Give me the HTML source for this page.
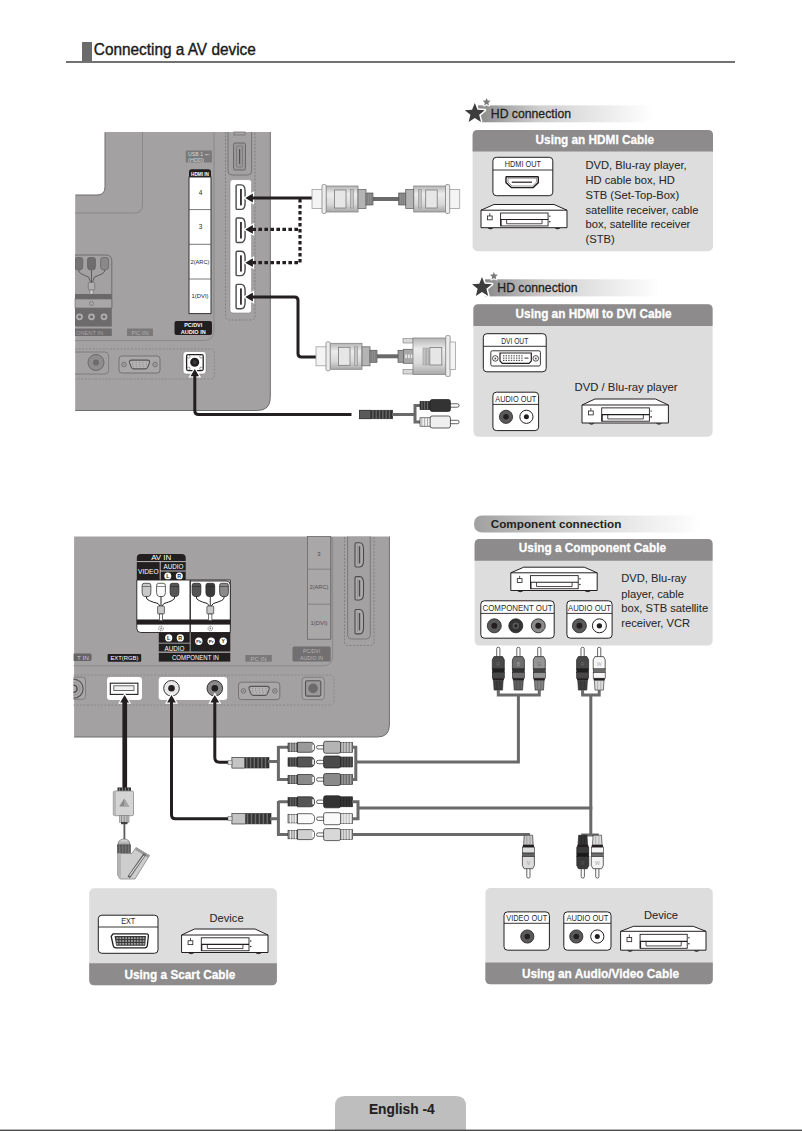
<!DOCTYPE html><html><head><meta charset="utf-8"><style>html,body{margin:0;padding:0;background:#fff;width:802px;height:1131px;overflow:hidden}svg{display:block}text{font-family:"Liberation Sans",sans-serif}</style></head><body>
<svg width="802" height="1131" viewBox="0 0 802 1131">
<defs>
<linearGradient id="hdgrad" x1="0" x2="1" y1="0" y2="0"><stop offset="0" stop-color="#8a8a8a"/><stop offset="0.35" stop-color="#cfcfcf"/><stop offset="1" stop-color="#ffffff"/></linearGradient>
<linearGradient id="cgrad" x1="0" x2="1" y1="0" y2="0"><stop offset="0" stop-color="#a0a0a0"/><stop offset="0.45" stop-color="#d6d6d6"/><stop offset="1" stop-color="#ffffff"/></linearGradient>
<linearGradient id="plug" x1="0" x2="0" y1="0" y2="1"><stop offset="0" stop-color="#b4b4b4"/><stop offset="0.3" stop-color="#ececec"/><stop offset="0.7" stop-color="#d8d8d8"/><stop offset="1" stop-color="#a8a8a8"/></linearGradient>
</defs>
<rect x="82" y="42" width="10" height="19.5" fill="#6b6b6b"/>
<text x="93.8" y="54.8" font-size="16.2" fill="#1a1a1a" font-weight="normal" text-anchor="start" stroke="#1a1a1a" stroke-width="0.4" textLength="162" lengthAdjust="spacingAndGlyphs" >Connecting a AV device</text>
<rect x="66" y="61" width="669" height="2" fill="#727272"/>
<path d="M105,132 H270.3 V397.5 Q270.3,410.5 257.3,410.5 H75 V195 H97 Q105,195 105,187 Z" fill="#a3a1a2"/>
<path d="M105,132.3 V187 Q105,195 97,195 H75 M270.3,132 V397.5 Q270.3,410.5 257.3,410.5 H75" fill="none" stroke="#6e6e6e" stroke-width="1"/>
<rect x="74" y="190" width="1.2" height="224" fill="#fff"/>
<path d="M142.5,132 V205 Q142.5,213 134.5,213 H75" fill="none" stroke="#8a8a8a" stroke-width="1"/>
<path d="M75,340.5 H204 Q214,340.5 214,330 V132" fill="none" stroke="#8a8a8a" stroke-width="1"/>
<path d="M225.5,132 V316 Q225.5,320 229.5,320 H251 Q255,320 255,316 V132" fill="none" stroke="#7a7a7a" stroke-width="0.8" stroke-dasharray="2,1.5"/>
<path d="M75,349 H210.5 Q214.5,349 214.5,353 V375 Q214.5,379 210.5,379 H75" fill="none" stroke="#858585" stroke-width="0.8" stroke-dasharray="2,1.5"/>
<path d="M228,132 V171 Q228,175 232,175 H247.6 Q251.6,175 251.6,171 V132" fill="#a3a1a2" stroke="#777" stroke-width="1"/>
<rect x="234" y="132" width="11" height="3" fill="none" stroke="#777" stroke-width="0.8"/>
<rect x="233.5" y="143" width="12" height="27" rx="1.5" fill="#9a9899" stroke="#6a6a6a" stroke-width="1"/>
<rect x="236.5" y="146" width="6" height="21" rx="1" fill="none" stroke="#777" stroke-width="0.8"/>
<rect x="239" y="149" width="1.2" height="15" fill="#555"/>
<rect x="230" y="179.6" width="21.6" height="133.4" rx="3" fill="#fff" stroke="#888" stroke-width="0.6"/>
<path d="M236.1,186.1 Q236.1,184.9 237.29999999999998,184.9 H241.1 Q245.1,184.9 245.1,191.4 V202.9 Q245.1,209.4 241.1,209.4 H237.29999999999998 Q236.1,209.4 236.1,208.20000000000002 Z" fill="#fff" stroke="#4a4a4a" stroke-width="1.4"/>
<rect x="240.1" y="188.9" width="1.7" height="16.5" fill="#231f20"/>
<path d="M236.1,219.2 Q236.1,218 237.29999999999998,218 H241.1 Q245.1,218 245.1,224.5 V236.0 Q245.1,242.5 241.1,242.5 H237.29999999999998 Q236.1,242.5 236.1,241.3 Z" fill="#fff" stroke="#4a4a4a" stroke-width="1.4"/>
<rect x="240.1" y="222" width="1.7" height="16.5" fill="#231f20"/>
<path d="M236.1,252.5 Q236.1,251.3 237.29999999999998,251.3 H241.1 Q245.1,251.3 245.1,257.8 V269.1 Q245.1,275.6 241.1,275.6 H237.29999999999998 Q236.1,275.6 236.1,274.40000000000003 Z" fill="#fff" stroke="#4a4a4a" stroke-width="1.4"/>
<rect x="240.1" y="255.3" width="1.7" height="16.30000000000001" fill="#231f20"/>
<path d="M236.1,285.59999999999997 Q236.1,284.4 237.29999999999998,284.4 H241.1 Q245.1,284.4 245.1,290.9 V302.2 Q245.1,308.7 241.1,308.7 H237.29999999999998 Q236.1,308.7 236.1,307.5 Z" fill="#fff" stroke="#4a4a4a" stroke-width="1.4"/>
<rect x="240.1" y="288.4" width="1.7" height="16.30000000000001" fill="#231f20"/>
<rect x="185.7" y="150.4" width="26.3" height="12" rx="1" fill="#7b797a"/>
<text x="188" y="156" font-size="5" fill="#d8d8d8" font-weight="normal" text-anchor="start" textLength="21" lengthAdjust="spacingAndGlyphs" >USB 1 ⭠</text>
<text x="188" y="161.5" font-size="5" fill="#d8d8d8" font-weight="normal" text-anchor="start" textLength="16" lengthAdjust="spacingAndGlyphs" >(HDD)</text>
<path d="M189,177.5 V172 Q189,169.3 191.7,169.3 H208.3 Q211,169.3 211,172 V177.5 Z" fill="#231f20"/>
<text x="200" y="176.2" font-size="5.2" fill="#fff" font-weight="bold" text-anchor="middle" textLength="18" lengthAdjust="spacingAndGlyphs" >HDMI IN</text>
<rect x="189" y="177" width="22" height="136.6" fill="#fff" stroke="#333" stroke-width="1"/>
<line x1="189" y1="209.6" x2="211" y2="209.6" stroke="#555" stroke-width="0.8"/>
<line x1="189" y1="244.3" x2="211" y2="244.3" stroke="#555" stroke-width="0.8"/>
<line x1="189" y1="279" x2="211" y2="279" stroke="#555" stroke-width="0.8"/>
<text x="200.5" y="195" font-size="6.5" fill="#231f20" font-weight="normal" text-anchor="middle" >4</text>
<text x="200.5" y="229" font-size="6.5" fill="#231f20" font-weight="normal" text-anchor="middle" >3</text>
<text x="200" y="264" font-size="5.6" fill="#231f20" font-weight="normal" text-anchor="middle" textLength="19" lengthAdjust="spacingAndGlyphs" >2(ARC)</text>
<text x="200" y="298" font-size="5.6" fill="#231f20" font-weight="normal" text-anchor="middle" textLength="17" lengthAdjust="spacingAndGlyphs" >1(DVI)</text>
<rect x="174.5" y="321" width="37.5" height="14" rx="2" fill="#231f20"/>
<text x="193.2" y="327.3" font-size="5.2" fill="#fff" font-weight="bold" text-anchor="middle" textLength="18" lengthAdjust="spacingAndGlyphs" >PC/DVI</text>
<text x="193.2" y="333.6" font-size="5.2" fill="#fff" font-weight="bold" text-anchor="middle" textLength="25" lengthAdjust="spacingAndGlyphs" >AUDIO IN</text>
<path d="M75,255 H106 Q111.8,255 111.8,261 V308 H75 Z" fill="#a3a1a2"/>
<path d="M75,255 H106 Q111.8,255 111.8,261 V308" fill="none" stroke="#6a6a6a" stroke-width="0.9"/>
<defs><clipPath id="tpclip"><rect x="75" y="132" width="200" height="280"/></clipPath></defs>
<g clip-path="url(#tpclip)">
<path d="M74.8,259.8 Q74.8,257.6 76.8,257.6 H80.8 Q82.8,257.6 82.8,259.8 V266.5 Q82.8,269.6 80.6,269.8 H77.0 Q74.8,269.6 74.8,266.5 Z" fill="#767475" stroke="#5a5a5a" stroke-width="0.6"/>
<path d="M87.5,259.8 Q87.5,257.6 89.5,257.6 H93.5 Q95.5,257.6 95.5,259.8 V266.5 Q95.5,269.6 93.3,269.8 H89.7 Q87.5,269.6 87.5,266.5 Z" fill="#6f6d6e" stroke="#5a5a5a" stroke-width="0.6"/>
<path d="M100.6,259.8 Q100.6,257.6 102.6,257.6 H106.6 Q108.6,257.6 108.6,259.8 V266.5 Q108.6,269.6 106.39999999999999,269.8 H102.8 Q100.6,269.6 100.6,266.5 Z" fill="#8a8889" stroke="#5a5a5a" stroke-width="0.6"/>
<path d="M78.8,270 V271 Q78.8,273.5 88.5,277 L90.5,282 M104.6,270 V271 Q104.6,273.5 94.5,277 L92.5,282 M91.5,270 V283" stroke="#555" stroke-width="0.9" fill="none"/>
<rect x="88.3" y="282.5" width="6.4" height="7.5" rx="1" fill="#b0aeaf" stroke="#666" stroke-width="0.6"/>
<rect x="90" y="290" width="3" height="5" fill="#cfcfcf" stroke="#666" stroke-width="0.5"/>
</g>
<rect x="75" y="294" width="36.8" height="5" fill="#6a6869"/>
<rect x="75" y="299" width="36.8" height="9" fill="#a9a7a8" stroke="#6a6a6a" stroke-width="0.6"/>
<circle cx="91.5" cy="303.5" r="2" fill="none" stroke="#777" stroke-width="0.8"/>
<rect x="75" y="308" width="36.8" height="18.5" fill="#6d6b6c"/>
<circle cx="79.5" cy="316.8" r="3.4" fill="#b0aeaf"/>
<circle cx="79.5" cy="316.8" r="1.6" fill="#6d6b6c"/>
<circle cx="91.5" cy="316.8" r="3.4" fill="#b0aeaf"/>
<circle cx="91.5" cy="316.8" r="1.6" fill="#6d6b6c"/>
<circle cx="104" cy="316.8" r="3.4" fill="#b0aeaf"/>
<circle cx="104" cy="316.8" r="1.6" fill="#6d6b6c"/>
<rect x="75" y="328.5" width="36.8" height="7.5" fill="#6d6b6c"/>
<text x="76" y="334.6" font-size="5.6" fill="#a8a6a7" font-weight="normal" text-anchor="start" textLength="27" lengthAdjust="spacingAndGlyphs" >ONENT IN</text>
<rect x="127" y="328.5" width="26" height="7.5" fill="#7b797a"/>
<text x="140" y="334.5" font-size="5.4" fill="#b0aeaf" font-weight="normal" text-anchor="middle" textLength="17" lengthAdjust="spacingAndGlyphs" >PC IN</text>
<path d="M75,352 H105 Q108.7,352 108.7,356 V370 Q108.7,374 105,374 H75" fill="none" stroke="#7a7a7a" stroke-width="0.9"/>
<circle cx="96" cy="362.5" r="8" fill="#8f8d8e" stroke="#6a6a6a" stroke-width="1"/>
<circle cx="96" cy="362.5" r="3" fill="#6d6b6c"/>
<rect x="119" y="356" width="41" height="17" rx="3" fill="#a9a7a8" stroke="#6e6e6e" stroke-width="0.9"/>
<path d="M131.66,360.08 H147.34 Q150.34,360.08 149.34,363.08 L147.84,366.92 Q147.14,368.92 145.34,368.92 H133.66 Q131.86,368.92 131.16,366.92 L129.66,363.08 Q128.66,360.08 131.66,360.08 Z" fill="#b4b2b3" stroke="#555" stroke-width="1.1"/>
<circle cx="132.66" cy="362.18" r="0.45" fill="#666"/>
<circle cx="136.08" cy="362.18" r="0.45" fill="#666"/>
<circle cx="139.50" cy="362.18" r="0.45" fill="#666"/>
<circle cx="142.92" cy="362.18" r="0.45" fill="#666"/>
<circle cx="146.34" cy="362.18" r="0.45" fill="#666"/>
<circle cx="132.66" cy="364.18" r="0.45" fill="#666"/>
<circle cx="136.08" cy="364.18" r="0.45" fill="#666"/>
<circle cx="139.50" cy="364.18" r="0.45" fill="#666"/>
<circle cx="142.92" cy="364.18" r="0.45" fill="#666"/>
<circle cx="146.34" cy="364.18" r="0.45" fill="#666"/>
<circle cx="133.46" cy="366.18" r="0.45" fill="#666"/>
<circle cx="136.88" cy="366.18" r="0.45" fill="#666"/>
<circle cx="140.30" cy="366.18" r="0.45" fill="#666"/>
<circle cx="143.72" cy="366.18" r="0.45" fill="#666"/>
<circle cx="147.14" cy="366.18" r="0.45" fill="#666"/>
<circle cx="123.92" cy="364.50" r="2.3" fill="#a9a7a8" stroke="#666" stroke-width="0.8"/>
<circle cx="123.92" cy="364.50" r="0.8" fill="#777"/>
<circle cx="155.08" cy="364.50" r="2.3" fill="#a9a7a8" stroke="#666" stroke-width="0.8"/>
<circle cx="155.08" cy="364.50" r="0.8" fill="#777"/>
<rect x="183.1" y="351.5" width="22.9" height="22.5" rx="3" fill="#fff" stroke="#777" stroke-width="0.5"/>
<rect x="186.6" y="354.6" width="16.6" height="16" rx="1.5" fill="#fff" stroke="#231f20" stroke-width="1.3"/>
<circle cx="188.6" cy="356.6" r="1.5" fill="#fff" stroke="#555" stroke-width="0.6"/>
<circle cx="201.2" cy="356.6" r="1.5" fill="#fff" stroke="#555" stroke-width="0.6"/>
<circle cx="188.6" cy="368.6" r="1.5" fill="#fff" stroke="#555" stroke-width="0.6"/>
<circle cx="201.2" cy="368.6" r="1.5" fill="#fff" stroke="#555" stroke-width="0.6"/>
<circle cx="194.7" cy="362.3" r="4.5" fill="#231f20"/>
<circle cx="194.7" cy="362.3" r="2" fill="#3a3a3a"/>
<polygon points="245.3,198 252.9,193.6 252.9,202.4" fill="#231f20" stroke="#fff" stroke-width="2.6" stroke-linejoin="miter" paint-order="stroke"/>
<polygon points="245.3,229.4 252.9,225.0 252.9,233.8" fill="#231f20" stroke="#fff" stroke-width="2.6" stroke-linejoin="miter" paint-order="stroke"/>
<polygon points="245.3,262.7 252.9,258.3 252.9,267.09999999999997" fill="#231f20" stroke="#fff" stroke-width="2.6" stroke-linejoin="miter" paint-order="stroke"/>
<polygon points="245.3,297 252.9,292.6 252.9,301.4" fill="#231f20" stroke="#fff" stroke-width="2.6" stroke-linejoin="miter" paint-order="stroke"/>
<path d="M252,198 H312" stroke="#231f20" stroke-width="3" fill="none"/>
<path d="M300,199 V263.5" stroke="#231f20" stroke-width="3.2" fill="none" stroke-dasharray="3.6,2.4"/>
<path d="M298,229.4 H252" stroke="#231f20" stroke-width="3.2" fill="none" stroke-dasharray="3.6,2.4"/>
<path d="M298,262.7 H252" stroke="#231f20" stroke-width="3.2" fill="none" stroke-dasharray="3.6,2.4"/>
<path d="M252,297 H294.5 Q298,297 298,300.5 V353.5 Q298,357 301.5,357 H316" stroke="#231f20" stroke-width="3" fill="none"/>
<rect x="372" y="197" width="28" height="4" fill="#6a6a6a"/>
<g transform="translate(312,199)">
<rect x="0" y="-9.5" width="10.5" height="19" fill="#f4f4f4" stroke="#a0a0a0" stroke-width="0.8"/>
<rect x="14" y="-13" width="32" height="26" fill="url(#plug)" stroke="#858585" stroke-width="0.8"/>
<rect x="10" y="-14.5" width="4.2" height="29" rx="1.5" fill="#ececec" stroke="#858585" stroke-width="0.8"/>
<rect x="22.5" y="-9" width="11.5" height="18" fill="#e6e6e6" stroke="#7a7a7a" stroke-width="0.8"/>
<rect x="38.5" y="-9.5" width="2.8" height="18.5" fill="#c4c4c4" stroke="#8a8a8a" stroke-width="0.6"/>
<rect x="46" y="-9.5" width="8" height="19" fill="#b4b4b4" stroke="#6a6a6a" stroke-width="0.8"/>
<rect x="54" y="-6" width="7" height="12" fill="#9a9a9a" stroke="#555" stroke-width="0.7"/>
<rect x="55.5" y="-6" width="0.7" height="12" fill="#666"/>
<rect x="57.5" y="-6" width="0.7" height="12" fill="#666"/>
<rect x="59.5" y="-6" width="0.7" height="12" fill="#666"/>
</g>
<g transform="translate(459.7,199) scale(-1,1)">
<rect x="0" y="-9.5" width="10.5" height="19" fill="#f4f4f4" stroke="#a0a0a0" stroke-width="0.8"/>
<rect x="14" y="-13" width="32" height="26" fill="url(#plug)" stroke="#858585" stroke-width="0.8"/>
<rect x="10" y="-14.5" width="4.2" height="29" rx="1.5" fill="#ececec" stroke="#858585" stroke-width="0.8"/>
<rect x="22.5" y="-9" width="11.5" height="18" fill="#e6e6e6" stroke="#7a7a7a" stroke-width="0.8"/>
<rect x="38.5" y="-9.5" width="2.8" height="18.5" fill="#c4c4c4" stroke="#8a8a8a" stroke-width="0.6"/>
<rect x="46" y="-9.5" width="8" height="19" fill="#b4b4b4" stroke="#6a6a6a" stroke-width="0.8"/>
<rect x="54" y="-6" width="7" height="12" fill="#9a9a9a" stroke="#555" stroke-width="0.7"/>
<rect x="55.5" y="-6" width="0.7" height="12" fill="#666"/>
<rect x="57.5" y="-6" width="0.7" height="12" fill="#666"/>
<rect x="59.5" y="-6" width="0.7" height="12" fill="#666"/>
</g>
<rect x="376" y="354.3" width="23" height="4" fill="#6a6a6a"/>
<g transform="translate(316,356.3)">
<rect x="0" y="-9.5" width="10.5" height="19" fill="#f4f4f4" stroke="#a0a0a0" stroke-width="0.8"/>
<rect x="14" y="-13" width="32" height="26" fill="url(#plug)" stroke="#858585" stroke-width="0.8"/>
<rect x="10" y="-14.5" width="4.2" height="29" rx="1.5" fill="#ececec" stroke="#858585" stroke-width="0.8"/>
<rect x="22.5" y="-9" width="11.5" height="18" fill="#e6e6e6" stroke="#7a7a7a" stroke-width="0.8"/>
<rect x="38.5" y="-9.5" width="2.8" height="18.5" fill="#c4c4c4" stroke="#8a8a8a" stroke-width="0.6"/>
<rect x="46" y="-9.5" width="8" height="19" fill="#b4b4b4" stroke="#6a6a6a" stroke-width="0.8"/>
<rect x="54" y="-6" width="7" height="12" fill="#9a9a9a" stroke="#555" stroke-width="0.7"/>
<rect x="55.5" y="-6" width="0.7" height="12" fill="#666"/>
<rect x="57.5" y="-6" width="0.7" height="12" fill="#666"/>
<rect x="59.5" y="-6" width="0.7" height="12" fill="#666"/>
</g>
<rect x="398" y="350.3" width="6.5" height="12" fill="#9a9a9a" stroke="#555" stroke-width="0.7"/>
<rect x="403" y="338.5" width="10" height="4.5" fill="#d8d8d8" stroke="#7a7a7a" stroke-width="0.6"/>
<rect x="403" y="369.5" width="10" height="4.5" fill="#d8d8d8" stroke="#7a7a7a" stroke-width="0.6"/>
<rect x="403.5" y="349.3" width="10" height="14" fill="#a8a8a8" stroke="#666" stroke-width="0.8"/>
<rect x="405.3" y="354.5" width="1.6" height="3.6" fill="#f0f0f0"/>
<rect x="408.1" y="354.5" width="1.6" height="3.6" fill="#f0f0f0"/>
<rect x="410.90000000000003" y="354.5" width="1.6" height="3.6" fill="#f0f0f0"/>
<rect x="413" y="338" width="33" height="36.5" fill="url(#plug)" stroke="#858585" stroke-width="0.8"/>
<rect x="445.7" y="335.5" width="4.5" height="41" rx="1.5" fill="#ececec" stroke="#858585" stroke-width="0.8"/>
<rect x="450" y="342" width="5.5" height="27.5" fill="#f4f4f4" stroke="#a0a0a0" stroke-width="0.8"/>
<rect x="429.8" y="347.5" width="12" height="17.5" fill="#e6e6e6" stroke="#7a7a7a" stroke-width="0.8"/>
<rect x="423" y="348" width="2.2" height="17" fill="#c4c4c4" stroke="#8a8a8a" stroke-width="0.5"/>
<rect x="426.3" y="348" width="2.2" height="17" fill="#c4c4c4" stroke="#8a8a8a" stroke-width="0.5"/>
<polygon points="194.8,369 190.5,376.3 199.1,376.3" fill="#231f20" stroke="#fff" stroke-width="2.4" paint-order="stroke"/>
<path d="M194.8,375.5 V410.5 Q194.8,414.5 198.8,414.5 H352" stroke="#231f20" stroke-width="3" fill="none"/>
<rect x="351.5" y="413" width="1.6" height="3" fill="#fff"/>
<rect x="359.5" y="410.25" width="33.10000000000002" height="8.5" fill="#333" stroke="#231f20" stroke-width="0.6"/>
<rect x="359.5" y="410.25" width="11.25" height="8.5" fill="#5a5a5a" stroke="#333" stroke-width="0.6"/>
<rect x="372.25" y="410.25" width="1.31" height="8.5" fill="#6a6a6a"/>
<rect x="375.56" y="410.25" width="1.31" height="8.5" fill="#6a6a6a"/>
<rect x="378.87" y="410.25" width="1.31" height="8.5" fill="#6a6a6a"/>
<rect x="382.18" y="410.25" width="1.31" height="8.5" fill="#6a6a6a"/>
<rect x="385.48" y="410.25" width="1.31" height="8.5" fill="#6a6a6a"/>
<rect x="388.79" y="410.25" width="1.31" height="8.5" fill="#6a6a6a"/>
<path d="M392,414.5 H415 M415,404 V423.5 M413.5,405.5 H421 M413.5,422 H421" stroke="#6a6a6a" stroke-width="3" fill="none"/>
<rect x="449.42" y="403.8" width="9.579999999999984" height="3.4" rx="1.5" fill="#fff" stroke="#231f20" stroke-width="0.7"/>
<rect x="420" y="401.3" width="11.139999999999986" height="8.4" fill="#333" stroke="#231f20" stroke-width="0.6"/>
<rect x="421.50" y="401.3" width="0.8" height="8.4" fill="#777"/>
<rect x="424.30" y="401.3" width="0.8" height="8.4" fill="#777"/>
<rect x="427.10" y="401.3" width="0.8" height="8.4" fill="#777"/>
<rect x="430.14" y="399.5" width="20.28000000000003" height="12" rx="2" fill="#333" stroke="#231f20" stroke-width="0.7"/>
<rect x="449.42" y="420.3" width="9.579999999999984" height="3.4" rx="1.5" fill="#fff" stroke="#231f20" stroke-width="0.7"/>
<rect x="420" y="417.8" width="11.139999999999986" height="8.4" fill="#f0f0f0" stroke="#231f20" stroke-width="0.6"/>
<rect x="421.50" y="417.8" width="0.8" height="8.4" fill="#999"/>
<rect x="424.30" y="417.8" width="0.8" height="8.4" fill="#999"/>
<rect x="427.10" y="417.8" width="0.8" height="8.4" fill="#999"/>
<rect x="430.14" y="416" width="20.28000000000003" height="12" rx="2" fill="#f0f0f0" stroke="#231f20" stroke-width="0.7"/>
<rect x="478" y="105.4" width="175" height="16.89999999999999" fill="url(#hdgrad)"/>
<polygon points="486.60,98.00 487.72,100.56 490.50,100.83 488.41,102.69 489.01,105.42 486.60,104.00 484.19,105.42 484.79,102.69 482.70,100.83 485.48,100.56" fill="#7a7a7a" stroke="#fff" stroke-width="2" paint-order="stroke" stroke-linejoin="round"/>
<polygon points="474.80,102.90 477.50,109.68 484.79,110.16 479.17,114.82 480.97,121.89 474.80,118.00 468.63,121.89 470.43,114.82 464.81,110.16 472.10,109.68" fill="#3d3d3d" stroke="#fff" stroke-width="3" paint-order="stroke" stroke-linejoin="round"/>
<text x="490.8" y="118" font-size="12.9" fill="#1e1e1e" font-weight="normal" text-anchor="start" stroke="#1e1e1e" stroke-width="0.3" textLength="80.2" lengthAdjust="spacingAndGlyphs" >HD connection</text>
<rect x="472.6" y="130.1" width="240.39999999999998" height="121.1" rx="5" fill="#dddddd"/>
<path d="M472.6,151.4 V135.1 Q472.6,130.1 477.6,130.1 H708 Q713,130.1 713,135.1 V151.4 Z" fill="#8d8b8c"/>
<text x="535.6" y="144.10000000000002" font-size="13.6" fill="#fff" font-weight="bold" text-anchor="start" stroke="#fff" stroke-width="0.3" textLength="118.39999999999998" lengthAdjust="spacingAndGlyphs" >Using an HDMI Cable</text>
<rect x="492.9" y="157.3" width="59.89999999999998" height="38.39999999999998" rx="3.5" fill="#fff" stroke="#231f20" stroke-width="1"/>
<line x1="492.9" y1="170" x2="552.8" y2="170" stroke="#231f20" stroke-width="0.9"/>
<text x="522.8499999999999" y="167.4" font-size="8.6" fill="#2a2a2a" font-weight="normal" text-anchor="middle" textLength="36" lengthAdjust="spacingAndGlyphs" >HDMI OUT</text>
<path d="M506.5,176.8 H537.6 Q538.3,176.8 538.3,177.5 V182.6 L533.2,187.6 H511.4 L506,182.6 V177.5 Q506,176.8 506.5,176.8 Z" fill="#fff" stroke="#231f20" stroke-width="1.4"/>
<path d="M508,178.2 H536.6 V182 L532.5,186 H512 L508,182 Z" fill="#fff" stroke="#555" stroke-width="0.6"/>
<line x1="511.8" y1="182.2" x2="532" y2="182.2" stroke="#231f20" stroke-width="1.2"/>
<path d="M493.90,204.5 H554.10 L567,210.2 V227.7 H481 V210.2 Z" fill="#fff" stroke="#231f20" stroke-width="1"/>
<line x1="481" y1="210.2" x2="567" y2="210.2" stroke="#231f20" stroke-width="1"/>
<path d="M487.88,228.1 Q490.46,229.89999999999998 493.04,228.1" fill="#231f20" stroke="#231f20" stroke-width="0.6"/>
<path d="M554.96,228.1 Q557.54,229.89999999999998 560.12,228.1" fill="#231f20" stroke="#231f20" stroke-width="0.6"/>
<rect x="500.61" y="213.00" width="47.47" height="12.95" fill="#fff" stroke="#231f20" stroke-width="0.9"/>
<line x1="500.61" y1="219.56" x2="548.08" y2="219.56" stroke="#231f20" stroke-width="1.1"/>
<path d="M506.63,219.56 V223.76 H542.06 V219.56" fill="none" stroke="#231f20" stroke-width="0.8"/>
<line x1="501.01" y1="219.56" x2="501.01" y2="225.95" stroke="#231f20" stroke-width="1.2"/>
<rect x="487.45" y="215.97" width="4.73" height="3.85" fill="none" stroke="#231f20" stroke-width="0.8"/>
<line x1="489.81" y1="213.17" x2="489.81" y2="215.97" stroke="#231f20" stroke-width="0.8"/>
<circle cx="549.80" cy="216.15" r="0.7" fill="#231f20"/>
<circle cx="549.80" cy="221.75" r="0.8" fill="#231f20"/>
<text x="585.5" y="168.8" font-size="11.6" fill="#262626" font-weight="normal" text-anchor="start" stroke="#262626" stroke-width="0.05" textLength="101.09" lengthAdjust="spacingAndGlyphs" >DVD, Blu-ray player,</text>
<text x="585.5" y="184.4" font-size="11.6" fill="#262626" font-weight="normal" text-anchor="start" stroke="#262626" stroke-width="0.05" textLength="89.31" lengthAdjust="spacingAndGlyphs" >HD cable box, HD</text>
<text x="585.5" y="198.9" font-size="11.6" fill="#262626" font-weight="normal" text-anchor="start" stroke="#262626" stroke-width="0.05" textLength="93.64" lengthAdjust="spacingAndGlyphs" >STB (Set-Top-Box)</text>
<text x="585.5" y="213.7" font-size="11.6" fill="#262626" font-weight="normal" text-anchor="start" stroke="#262626" stroke-width="0.05" textLength="112.89" lengthAdjust="spacingAndGlyphs" >satellite receiver, cable</text>
<text x="585.5" y="227.9" font-size="11.6" fill="#262626" font-weight="normal" text-anchor="start" stroke="#262626" stroke-width="0.05" textLength="104.82" lengthAdjust="spacingAndGlyphs" >box, satellite receiver</text>
<text x="585.5" y="242.6" font-size="11.6" fill="#262626" font-weight="normal" text-anchor="start" stroke="#262626" stroke-width="0.05" textLength="29.14" lengthAdjust="spacingAndGlyphs" >(STB)</text>
<rect x="485" y="279.3" width="175" height="17.099999999999966" fill="url(#hdgrad)"/>
<polygon points="493.90,272.00 495.02,274.56 497.80,274.83 495.71,276.69 496.31,279.42 493.90,278.00 491.49,279.42 492.09,276.69 490.00,274.83 492.78,274.56" fill="#7a7a7a" stroke="#fff" stroke-width="2" paint-order="stroke" stroke-linejoin="round"/>
<polygon points="482.00,276.90 484.70,283.68 491.99,284.16 486.37,288.82 488.17,295.89 482.00,292.00 475.83,295.89 477.63,288.82 472.01,284.16 479.30,283.68" fill="#3d3d3d" stroke="#fff" stroke-width="3" paint-order="stroke" stroke-linejoin="round"/>
<text x="497.3" y="291.6" font-size="12.9" fill="#1e1e1e" font-weight="normal" text-anchor="start" stroke="#1e1e1e" stroke-width="0.3" textLength="80.2" lengthAdjust="spacingAndGlyphs" >HD connection</text>
<rect x="473.4" y="304.3" width="239.20000000000005" height="132.5" rx="5" fill="#dddddd"/>
<path d="M473.4,325.9 V309.3 Q473.4,304.3 478.4,304.3 H707.6 Q712.6,304.3 712.6,309.3 V325.9 Z" fill="#8d8b8c"/>
<text x="515.6" y="318.3" font-size="13.6" fill="#fff" font-weight="bold" text-anchor="start" stroke="#fff" stroke-width="0.3" textLength="155.89999999999998" lengthAdjust="spacingAndGlyphs" >Using an HDMI to DVI Cable</text>
<rect x="483.3" y="333.7" width="62.900000000000034" height="38.10000000000002" rx="3.5" fill="#fff" stroke="#231f20" stroke-width="1"/>
<line x1="483.3" y1="346.3" x2="546.2" y2="346.3" stroke="#231f20" stroke-width="0.9"/>
<text x="514.75" y="343.7" font-size="8.6" fill="#2a2a2a" font-weight="normal" text-anchor="middle" textLength="27" lengthAdjust="spacingAndGlyphs" >DVI OUT</text>
<rect x="490.8" y="350.8" width="49.6" height="15.2" rx="1.5" fill="#fff" stroke="#231f20" stroke-width="0.9"/>
<path d="M500,353 H531.3 V361 L529,363.4 H502.3 L500,361 Z" fill="#fff" stroke="#231f20" stroke-width="1.2"/>
<rect x="503.0" y="355.2" width="1.4" height="1.2" fill="#555"/>
<rect x="505.6" y="355.2" width="1.4" height="1.2" fill="#555"/>
<rect x="508.2" y="355.2" width="1.4" height="1.2" fill="#555"/>
<rect x="510.8" y="355.2" width="1.4" height="1.2" fill="#555"/>
<rect x="513.4" y="355.2" width="1.4" height="1.2" fill="#555"/>
<rect x="516.0" y="355.2" width="1.4" height="1.2" fill="#555"/>
<rect x="518.6" y="355.2" width="1.4" height="1.2" fill="#555"/>
<rect x="521.2" y="355.2" width="1.4" height="1.2" fill="#555"/>
<rect x="503.0" y="357.5" width="1.4" height="1.2" fill="#555"/>
<rect x="505.6" y="357.5" width="1.4" height="1.2" fill="#555"/>
<rect x="508.2" y="357.5" width="1.4" height="1.2" fill="#555"/>
<rect x="510.8" y="357.5" width="1.4" height="1.2" fill="#555"/>
<rect x="513.4" y="357.5" width="1.4" height="1.2" fill="#555"/>
<rect x="516.0" y="357.5" width="1.4" height="1.2" fill="#555"/>
<rect x="518.6" y="357.5" width="1.4" height="1.2" fill="#555"/>
<rect x="521.2" y="357.5" width="1.4" height="1.2" fill="#555"/>
<rect x="503.0" y="359.8" width="1.4" height="1.2" fill="#555"/>
<rect x="505.6" y="359.8" width="1.4" height="1.2" fill="#555"/>
<rect x="508.2" y="359.8" width="1.4" height="1.2" fill="#555"/>
<rect x="510.8" y="359.8" width="1.4" height="1.2" fill="#555"/>
<rect x="513.4" y="359.8" width="1.4" height="1.2" fill="#555"/>
<rect x="516.0" y="359.8" width="1.4" height="1.2" fill="#555"/>
<rect x="518.6" y="359.8" width="1.4" height="1.2" fill="#555"/>
<rect x="521.2" y="359.8" width="1.4" height="1.2" fill="#555"/>
<rect x="524.5" y="357.5" width="4" height="1.2" fill="#555"/>
<circle cx="495.3" cy="358.4" r="2.8" fill="#fff" stroke="#231f20" stroke-width="0.8"/>
<circle cx="495.3" cy="358.4" r="1" fill="#555"/>
<circle cx="535.8" cy="358.4" r="2.8" fill="#fff" stroke="#231f20" stroke-width="0.8"/>
<circle cx="535.8" cy="358.4" r="1" fill="#555"/>
<rect x="492.9" y="392.2" width="45.700000000000045" height="38.400000000000034" rx="3.5" fill="#fff" stroke="#231f20" stroke-width="1"/>
<line x1="492.9" y1="404.4" x2="538.6" y2="404.4" stroke="#231f20" stroke-width="0.9"/>
<text x="515.75" y="401.79999999999995" font-size="8.6" fill="#2a2a2a" font-weight="normal" text-anchor="middle" textLength="41" lengthAdjust="spacingAndGlyphs" >AUDIO OUT</text>
<circle cx="506" cy="416.8" r="6.6" fill="#5a5a5a" stroke="#231f20" stroke-width="0.8"/>
<circle cx="506" cy="416.8" r="2.772" fill="#231f20"/>
<circle cx="526.4" cy="416.8" r="6.6" fill="#fff" stroke="#231f20" stroke-width="1"/>
<circle cx="526.4" cy="416.8" r="2.508" fill="#231f20"/>
<text x="574.6" y="391" font-size="11.6" fill="#262626" font-weight="normal" text-anchor="start" stroke="#262626" stroke-width="0.05" textLength="103" lengthAdjust="spacingAndGlyphs" >DVD / Blu-ray player</text>
<path d="M594.96,399 H655.44 L668.4,405 V423 H582 V405 Z" fill="#fff" stroke="#231f20" stroke-width="1"/>
<line x1="582" y1="405" x2="668.4" y2="405" stroke="#231f20" stroke-width="1"/>
<path d="M588.91,423.4 Q591.50,425.2 594.10,423.4" fill="#231f20" stroke="#231f20" stroke-width="0.6"/>
<path d="M656.30,423.4 Q658.90,425.2 661.49,423.4" fill="#231f20" stroke="#231f20" stroke-width="0.6"/>
<rect x="601.70" y="407.88" width="47.69" height="13.32" fill="#fff" stroke="#231f20" stroke-width="0.9"/>
<line x1="601.70" y1="414.63" x2="649.39" y2="414.63" stroke="#231f20" stroke-width="1.1"/>
<path d="M607.75,414.63 V418.95 H643.34 V414.63" fill="none" stroke="#231f20" stroke-width="0.8"/>
<line x1="602.10" y1="414.63" x2="602.10" y2="421.20" stroke="#231f20" stroke-width="1.2"/>
<rect x="588.48" y="410.94" width="4.75" height="3.96" fill="none" stroke="#231f20" stroke-width="0.8"/>
<line x1="590.86" y1="408.06" x2="590.86" y2="410.94" stroke="#231f20" stroke-width="0.8"/>
<circle cx="651.12" cy="411.12" r="0.7" fill="#231f20"/>
<circle cx="651.12" cy="416.88" r="0.8" fill="#231f20"/>
<path d="M482.5,515.5 H700 V532.6 H482.5 Q474,532.6 474,524 Q474,515.5 482.5,515.5 Z" fill="url(#cgrad)"/>
<text x="490.8" y="527.8" font-size="11.7" fill="#231f20" font-weight="bold" text-anchor="start" textLength="130.5" lengthAdjust="spacingAndGlyphs" >Component connection</text>
<rect x="474.6" y="539" width="238.0" height="106.60000000000002" rx="5" fill="#dddddd"/>
<path d="M474.6,560.8 V544 Q474.6,539 479.6,539 H707.6 Q712.6,539 712.6,544 V560.8 Z" fill="#8d8b8c"/>
<text x="518.8" y="552.0999999999999" font-size="13.6" fill="#fff" font-weight="bold" text-anchor="start" stroke="#fff" stroke-width="0.3" textLength="147.20000000000005" lengthAdjust="spacingAndGlyphs" >Using a Component Cable</text>
<path d="M523.76,567.2 H584.24 L597.2,572.8 V590.5 H510.8 V572.8 Z" fill="#fff" stroke="#231f20" stroke-width="1"/>
<line x1="510.8" y1="572.8" x2="597.2" y2="572.8" stroke="#231f20" stroke-width="1"/>
<path d="M517.71,590.9 Q520.30,592.7 522.90,590.9" fill="#231f20" stroke="#231f20" stroke-width="0.6"/>
<path d="M585.10,590.9 Q587.70,592.7 590.29,590.9" fill="#231f20" stroke="#231f20" stroke-width="0.6"/>
<rect x="530.50" y="575.63" width="47.69" height="13.10" fill="#fff" stroke="#231f20" stroke-width="0.9"/>
<line x1="530.50" y1="582.27" x2="578.19" y2="582.27" stroke="#231f20" stroke-width="1.1"/>
<path d="M536.55,582.27 V586.52 H572.14 V582.27" fill="none" stroke="#231f20" stroke-width="0.8"/>
<line x1="530.90" y1="582.27" x2="530.90" y2="588.73" stroke="#231f20" stroke-width="1.2"/>
<rect x="517.28" y="578.64" width="4.75" height="3.89" fill="none" stroke="#231f20" stroke-width="0.8"/>
<line x1="519.66" y1="575.81" x2="519.66" y2="578.64" stroke="#231f20" stroke-width="0.8"/>
<circle cx="579.92" cy="578.82" r="0.7" fill="#231f20"/>
<circle cx="579.92" cy="584.48" r="0.8" fill="#231f20"/>
<rect x="480.8" y="600.8" width="73.40000000000003" height="37.40000000000009" rx="3.5" fill="#fff" stroke="#231f20" stroke-width="1"/>
<line x1="480.8" y1="613.4" x2="554.2" y2="613.4" stroke="#231f20" stroke-width="0.9"/>
<text x="517.5" y="610.8" font-size="8.6" fill="#2a2a2a" font-weight="normal" text-anchor="middle" textLength="70" lengthAdjust="spacingAndGlyphs" >COMPONENT OUT</text>
<circle cx="494.3" cy="625.8" r="7" fill="#5a5a5a" stroke="#231f20" stroke-width="0.8"/>
<circle cx="494.3" cy="625.8" r="2.94" fill="#231f20"/>
<circle cx="515.8" cy="625.8" r="7" fill="#333" stroke="#231f20" stroke-width="0.8"/><circle cx="515.8" cy="625.8" r="3.2" fill="#5a5a5a"/><circle cx="515.8" cy="625.8" r="1.6" fill="#231f20"/>
<circle cx="538.3" cy="625.8" r="7" fill="#8a8a8a" stroke="#231f20" stroke-width="0.8"/><circle cx="538.3" cy="625.8" r="3" fill="#231f20"/>
<rect x="566.9" y="600.8" width="45.200000000000045" height="37.40000000000009" rx="3.5" fill="#fff" stroke="#231f20" stroke-width="1"/>
<line x1="566.9" y1="613.4" x2="612.1" y2="613.4" stroke="#231f20" stroke-width="0.9"/>
<text x="589.5" y="610.8" font-size="8.6" fill="#2a2a2a" font-weight="normal" text-anchor="middle" textLength="43" lengthAdjust="spacingAndGlyphs" >AUDIO OUT</text>
<circle cx="579.4" cy="625.8" r="7" fill="#5a5a5a" stroke="#231f20" stroke-width="0.8"/>
<circle cx="579.4" cy="625.8" r="2.94" fill="#231f20"/>
<circle cx="599.4" cy="625.8" r="7" fill="#fff" stroke="#231f20" stroke-width="1"/>
<circle cx="599.4" cy="625.8" r="2.66" fill="#231f20"/>
<text x="621.3" y="582.1" font-size="11.6" fill="#262626" font-weight="normal" text-anchor="start" stroke="#262626" stroke-width="0.05" textLength="65.11" lengthAdjust="spacingAndGlyphs" >DVD, Blu-ray</text>
<text x="621.3" y="597.9" font-size="11.6" fill="#262626" font-weight="normal" text-anchor="start" stroke="#262626" stroke-width="0.05" textLength="62.66" lengthAdjust="spacingAndGlyphs" >player, cable</text>
<text x="621.3" y="611.8" font-size="11.6" fill="#262626" font-weight="normal" text-anchor="start" stroke="#262626" stroke-width="0.05" textLength="86.83" lengthAdjust="spacingAndGlyphs" >box, STB satellite</text>
<text x="621.3" y="626.7" font-size="11.6" fill="#262626" font-weight="normal" text-anchor="start" stroke="#262626" stroke-width="0.05" textLength="68.84" lengthAdjust="spacingAndGlyphs" >receiver, VCR</text>
<path d="M73.6,536.6 H389.4 V725 Q389.4,737 377.4,737 H73.6 Z" fill="#a3a1a2"/>
<path d="M389.4,536.6 V725 Q389.4,737 377.4,737 H73.6" fill="none" stroke="#6e6e6e" stroke-width="1"/>
<rect x="72.8" y="536" width="1.3" height="203" fill="#fff"/>
<path d="M73.6,665.8 H323 Q332.6,665.8 332.6,656 V537" fill="none" stroke="#8a8a8a" stroke-width="1"/>
<rect x="330.2" y="537" width="2.2" height="102" fill="#959394"/>
<rect x="307.4" y="536.6" width="23.3" height="102.6" fill="#a9a7a8" stroke="#6a6a6a" stroke-width="0.8"/>
<line x1="307.4" y1="569.2" x2="330.7" y2="569.2" stroke="#7a7a7a" stroke-width="0.8"/>
<line x1="307.4" y1="604.2" x2="330.7" y2="604.2" stroke="#7a7a7a" stroke-width="0.8"/>
<text x="319" y="555.5" font-size="6" fill="#505050" font-weight="normal" text-anchor="middle" >3</text>
<text x="319" y="589" font-size="6" fill="#505050" font-weight="normal" text-anchor="middle" textLength="19" lengthAdjust="spacingAndGlyphs" >2(ARC)</text>
<text x="319" y="625" font-size="6" fill="#505050" font-weight="normal" text-anchor="middle" textLength="17" lengthAdjust="spacingAndGlyphs" >1(DVI)</text>
<path d="M344.5,537 V642 Q344.5,645.5 348,645.5 H370.5 Q374,645.5 374,642 V537" fill="none" stroke="#7a7a7a" stroke-width="0.8" stroke-dasharray="2,1.5"/>
<path d="M347.6,536.6 V635 Q347.6,639 351.6,639 H366.3 Q370.3,639 370.3,635 V536.6" fill="#a3a1a2" stroke="#777" stroke-width="0.9"/>
<path d="M355,543.9000000000001 Q355,542.7 356.2,542.7 H359.5 Q363.5,542.7 363.5,549.2 V560.5 Q363.5,567 359.5,567 H356.2 Q355,567 355,565.8 Z" fill="#acaaab" stroke="#4a4a4a" stroke-width="1.1"/>
<path d="M357.5,544.7 V565" stroke="#8a8a8a" stroke-width="0.6"/>
<rect x="358.8" y="546.2" width="1.4" height="17.299999999999955" fill="#4a4a4a"/>
<path d="M355,577.8000000000001 Q355,576.6 356.2,576.6 H359.5 Q363.5,576.6 363.5,583.1 V593.5 Q363.5,600 359.5,600 H356.2 Q355,600 355,598.8 Z" fill="#acaaab" stroke="#4a4a4a" stroke-width="1.1"/>
<path d="M357.5,578.6 V598" stroke="#8a8a8a" stroke-width="0.6"/>
<rect x="358.8" y="580.1" width="1.4" height="16.399999999999977" fill="#4a4a4a"/>
<path d="M355,610.7 Q355,609.5 356.2,609.5 H359.5 Q363.5,609.5 363.5,616.0 V627.4 Q363.5,633.9 359.5,633.9 H356.2 Q355,633.9 355,632.6999999999999 Z" fill="#acaaab" stroke="#4a4a4a" stroke-width="1.1"/>
<path d="M357.5,611.5 V631.9" stroke="#8a8a8a" stroke-width="0.6"/>
<rect x="358.8" y="613.0" width="1.4" height="17.399999999999977" fill="#4a4a4a"/>
<rect x="292.5" y="646.6" width="38.2" height="14.8" rx="1.5" fill="#716f70"/>
<text x="311.6" y="653" font-size="5" fill="#b8b6b7" font-weight="normal" text-anchor="middle" textLength="17" lengthAdjust="spacingAndGlyphs" >PC/DVI</text>
<text x="311.6" y="659.5" font-size="5" fill="#b8b6b7" font-weight="normal" text-anchor="middle" textLength="23" lengthAdjust="spacingAndGlyphs" >AUDIO IN</text>
<rect x="245.3" y="655" width="26.5" height="6.6" fill="#7a7879"/>
<text x="258.5" y="660.6" font-size="5" fill="#b8b6b7" font-weight="normal" text-anchor="middle" textLength="16" lengthAdjust="spacingAndGlyphs" >PC IN</text>
<path d="M73.6,675 H330 Q334,675 334,679 V701 Q334,705 330,705 H73.6" fill="none" stroke="#858585" stroke-width="0.8" stroke-dasharray="2,1.5"/>
<rect x="238.5" y="682.2" width="41.30000000000001" height="17.399999999999977" rx="3" fill="#a9a7a8" stroke="#6e6e6e" stroke-width="0.9"/>
<path d="M251.24,686.38 H267.06 Q270.06,686.38 269.06,689.38 L267.56,693.42 Q266.86,695.42 265.06,695.42 H253.24 Q251.44,695.42 250.74,693.42 L249.24,689.38 Q248.24,686.38 251.24,686.38 Z" fill="#b4b2b3" stroke="#555" stroke-width="1.1"/>
<circle cx="252.24" cy="688.48" r="0.45" fill="#666"/>
<circle cx="255.69" cy="688.48" r="0.45" fill="#666"/>
<circle cx="259.15" cy="688.48" r="0.45" fill="#666"/>
<circle cx="262.61" cy="688.48" r="0.45" fill="#666"/>
<circle cx="266.06" cy="688.48" r="0.45" fill="#666"/>
<circle cx="252.24" cy="690.48" r="0.45" fill="#666"/>
<circle cx="255.69" cy="690.48" r="0.45" fill="#666"/>
<circle cx="259.15" cy="690.48" r="0.45" fill="#666"/>
<circle cx="262.61" cy="690.48" r="0.45" fill="#666"/>
<circle cx="266.06" cy="690.48" r="0.45" fill="#666"/>
<circle cx="253.04" cy="692.48" r="0.45" fill="#666"/>
<circle cx="256.49" cy="692.48" r="0.45" fill="#666"/>
<circle cx="259.95" cy="692.48" r="0.45" fill="#666"/>
<circle cx="263.41" cy="692.48" r="0.45" fill="#666"/>
<circle cx="266.86" cy="692.48" r="0.45" fill="#666"/>
<circle cx="243.46" cy="690.90" r="2.3" fill="#a9a7a8" stroke="#666" stroke-width="0.8"/>
<circle cx="243.46" cy="690.90" r="0.8" fill="#777"/>
<circle cx="274.84" cy="690.90" r="2.3" fill="#a9a7a8" stroke="#666" stroke-width="0.8"/>
<circle cx="274.84" cy="690.90" r="0.8" fill="#777"/>
<rect x="302" y="677.3" width="22.3" height="22.3" rx="3" fill="#a9a7a8" stroke="#777" stroke-width="0.8"/>
<rect x="305.5" y="680.8" width="15.3" height="15.3" rx="1.5" fill="#9a9899" stroke="#555" stroke-width="1.1"/>
<circle cx="313.1" cy="688.4" r="4.8" fill="#6d6b6c"/>
<defs><clipPath id="bpclip"><rect x="73.6" y="536.6" width="316" height="201"/></clipPath></defs>
<g clip-path="url(#bpclip)">
<path d="M70,677.2 H82.5 Q85.5,677.2 85.5,680.2 V696.3 Q85.5,699.3 82.5,699.3 H70" fill="#a9a7a8" stroke="#7a7a7a" stroke-width="0.9"/>
<circle cx="73.5" cy="688.7" r="9.6" fill="#a9a7a8" stroke="#555" stroke-width="1.1"/>
<circle cx="73.5" cy="688.7" r="6.5" fill="none" stroke="#8a8a8a" stroke-width="0.8"/>
<circle cx="73.5" cy="688.7" r="3.6" fill="none" stroke="#444" stroke-width="1.4"/>
</g>
<path d="M136.8,580 V558 Q136.8,554 140.8,554 H181.7 Q185.7,554 185.7,558 V580 Z" fill="#231f20"/>
<text x="161.2" y="560.3" font-size="6.4" fill="#fff" font-weight="normal" text-anchor="middle" textLength="20" lengthAdjust="spacingAndGlyphs" >AV IN</text>
<line x1="136.8" y1="561.6" x2="185.7" y2="561.6" stroke="#fff" stroke-width="0.7"/>
<line x1="160.2" y1="561.6" x2="160.2" y2="580" stroke="#fff" stroke-width="0.7"/>
<line x1="160.2" y1="571" x2="185.7" y2="571" stroke="#fff" stroke-width="0.7"/>
<text x="148.3" y="574.3" font-size="7.6" fill="#fff" font-weight="normal" text-anchor="middle" textLength="20.5" lengthAdjust="spacingAndGlyphs" >VIDEO</text>
<text x="173.5" y="568.9" font-size="7" fill="#fff" font-weight="normal" text-anchor="middle" textLength="20" lengthAdjust="spacingAndGlyphs" >AUDIO</text>
<circle cx="167.8" cy="576.1" r="3.5" fill="#fff"/>
<text x="167.8" y="578.1" font-size="5.4" fill="#231f20" font-weight="bold" text-anchor="middle" >L</text>
<circle cx="179.3" cy="576.1" r="3.5" fill="#fff"/>
<text x="179.3" y="578.1" font-size="5.4" fill="#231f20" font-weight="bold" text-anchor="middle" >R</text>
<path d="M136.8,580 H230.3 V628.5 Q230.3,632.5 226.3,632.5 H140.8 Q136.8,632.5 136.8,628.5 Z" fill="#fff" stroke="#231f20" stroke-width="0.9"/>
<path d="M190.2,581 H226.3 Q230.3,581 230.3,585 V632.5 H190.2 Z" fill="#fff" stroke="#231f20" stroke-width="0.9"/>
<rect x="136.8" y="619.5" width="93.5" height="5.1" fill="#231f20"/>
<line x1="190.2" y1="580" x2="190.2" y2="632.5" stroke="#231f20" stroke-width="0.9"/>
<path d="M142.1,585.5 Q142.1,583.3 144.1,583.3 H148.9 Q150.9,583.3 150.9,585.5 V592.5 Q150.9,596 148.5,596.5 H144.5 Q142.1,596 142.1,592.5 Z" fill="#c8c8c8" stroke="#231f20" stroke-width="0.7"/>
<line x1="142.3" y1="586.5" x2="150.7" y2="586.5" stroke="#231f20" stroke-width="0.5"/>
<path d="M156.6,585.5 Q156.6,583.3 158.6,583.3 H163.4 Q165.4,583.3 165.4,585.5 V592.5 Q165.4,596 163,596.5 H159 Q156.6,596 156.6,592.5 Z" fill="#fafafa" stroke="#231f20" stroke-width="0.7"/>
<line x1="156.8" y1="586.5" x2="165.2" y2="586.5" stroke="#231f20" stroke-width="0.5"/>
<path d="M170.1,585.5 Q170.1,583.3 172.1,583.3 H176.9 Q178.9,583.3 178.9,585.5 V592.5 Q178.9,596 176.5,596.5 H172.5 Q170.1,596 170.1,592.5 Z" fill="#555" stroke="#231f20" stroke-width="0.7"/>
<line x1="170.3" y1="586.5" x2="178.7" y2="586.5" stroke="#231f20" stroke-width="0.5"/>
<path d="M146.5,596.5 V598 Q146.5,600.5 158,603.5 L160,606 M174.5,596.5 V598 Q174.5,600.5 164,603.5 L162,606 M161,596.5 V607" stroke="#231f20" stroke-width="1" fill="none"/>
<line x1="161" y1="597" x2="161" y2="606" stroke="#888" stroke-width="0.5"/>
<rect x="157.6" y="606" width="6.8" height="8" rx="1" fill="#c8c8c8" stroke="#333" stroke-width="0.7"/>
<rect x="159.4" y="614" width="3.2" height="6.5" fill="#fff" stroke="#333" stroke-width="0.7"/>
<circle cx="161" cy="628.5" r="2.3" fill="none" stroke="#666" stroke-width="0.9" stroke-dasharray="1,0.6"/>
<circle cx="161" cy="628.5" r="0.9" fill="#888"/>
<path d="M192.1,585.5 Q192.1,583.3 194.1,583.3 H198.9 Q200.9,583.3 200.9,585.5 V592.5 Q200.9,596 198.5,596.5 H194.5 Q192.1,596 192.1,592.5 Z" fill="#555" stroke="#231f20" stroke-width="0.7"/>
<line x1="192.3" y1="586.5" x2="200.7" y2="586.5" stroke="#231f20" stroke-width="0.5"/>
<path d="M205.9,585.5 Q205.9,583.3 207.9,583.3 H212.70000000000002 Q214.70000000000002,583.3 214.70000000000002,585.5 V592.5 Q214.70000000000002,596 212.3,596.5 H208.3 Q205.9,596 205.9,592.5 Z" fill="#3a3a3a" stroke="#231f20" stroke-width="0.7"/>
<line x1="206.10000000000002" y1="586.5" x2="214.5" y2="586.5" stroke="#231f20" stroke-width="0.5"/>
<path d="M219.6,585.5 Q219.6,583.3 221.6,583.3 H226.4 Q228.4,583.3 228.4,585.5 V592.5 Q228.4,596 226,596.5 H222 Q219.6,596 219.6,592.5 Z" fill="#8a8a8a" stroke="#231f20" stroke-width="0.7"/>
<line x1="219.8" y1="586.5" x2="228.2" y2="586.5" stroke="#231f20" stroke-width="0.5"/>
<path d="M196.5,596.5 V598 Q196.5,600.5 207.3,603.5 L209.3,606 M224,596.5 V598 Q224,600.5 213.3,603.5 L211.3,606 M210.3,596.5 V607" stroke="#231f20" stroke-width="1" fill="none"/>
<line x1="210.3" y1="597" x2="210.3" y2="606" stroke="#888" stroke-width="0.5"/>
<rect x="206.9" y="606" width="6.8" height="8" rx="1" fill="#c8c8c8" stroke="#333" stroke-width="0.7"/>
<rect x="208.70000000000002" y="614" width="3.2" height="6.5" fill="#fff" stroke="#333" stroke-width="0.7"/>
<circle cx="210.3" cy="628.5" r="2.3" fill="none" stroke="#666" stroke-width="0.9" stroke-dasharray="1,0.6"/>
<circle cx="210.3" cy="628.5" r="0.9" fill="#888"/>
<rect x="158.8" y="632.5" width="71.5" height="19.2" fill="#231f20"/>
<line x1="158.8" y1="643.2" x2="190.2" y2="643.2" stroke="#bbb" stroke-width="0.8"/>
<line x1="190.2" y1="632.5" x2="190.2" y2="651.7" stroke="#bbb" stroke-width="0.8"/>
<circle cx="168.7" cy="637.9" r="3.6" fill="#fff"/>
<text x="168.7" y="640" font-size="5.4" fill="#231f20" font-weight="bold" text-anchor="middle" >L</text>
<circle cx="180.3" cy="637.9" r="3.6" fill="#fff"/>
<text x="180.3" y="640" font-size="5.4" fill="#231f20" font-weight="bold" text-anchor="middle" >R</text>
<text x="174.5" y="650.6" font-size="7.2" fill="#fff" font-weight="normal" text-anchor="middle" textLength="20" lengthAdjust="spacingAndGlyphs" >AUDIO</text>
<circle cx="198.8" cy="641.3" r="3.7" fill="#fff"/>
<text x="198.8" y="643.3" font-size="4.2" fill="#231f20" font-weight="bold" text-anchor="middle" textLength="5" lengthAdjust="spacingAndGlyphs" >Pb</text>
<circle cx="211.2" cy="641.3" r="3.7" fill="#fff"/>
<text x="211.2" y="643.3" font-size="4.2" fill="#231f20" font-weight="bold" text-anchor="middle" textLength="5" lengthAdjust="spacingAndGlyphs" >Pr</text>
<circle cx="223.2" cy="641.3" r="3.7" fill="#fff"/>
<text x="223.2" y="643.3" font-size="5" fill="#231f20" font-weight="bold" text-anchor="middle" >Y</text>
<line x1="158.8" y1="652.2" x2="230.3" y2="652.2" stroke="#bbb" stroke-width="0.8"/>
<rect x="158.8" y="652.8" width="71.5" height="8.8" fill="#231f20"/>
<text x="195.5" y="660.2" font-size="7" fill="#fff" font-weight="normal" text-anchor="middle" textLength="47" lengthAdjust="spacingAndGlyphs" >COMPONENT IN</text>
<rect x="107.6" y="654" width="33.6" height="7.8" rx="1" fill="#231f20"/>
<text x="124.4" y="660.2" font-size="5.4" fill="#fff" font-weight="normal" text-anchor="middle" textLength="28" lengthAdjust="spacingAndGlyphs" >EXT(RGB)</text>
<path d="M73.6,653.6 H89.6 Q91.6,653.6 91.6,655.6 V659.1 Q91.6,661.1 89.6,661.1 H73.6 Z" fill="#666465"/>
<text x="77" y="659.9" font-size="6" fill="#c8c6c7" font-weight="normal" text-anchor="start" textLength="12" lengthAdjust="spacingAndGlyphs" >T IN</text>
<rect x="107" y="677" width="35" height="23" rx="3" fill="#fff"/>
<rect x="110.3" y="683.2" width="27.6" height="11.2" fill="#fff" stroke="#231f20" stroke-width="1.1"/>
<rect x="113.8" y="685.8" width="20.2" height="4.8" fill="#f0f0f0" stroke="#444" stroke-width="0.8"/>
<rect x="158.7" y="677" width="68.5" height="23" rx="3" fill="#fff"/>
<circle cx="171.5" cy="688.3" r="7.8" fill="#e8e8e8" stroke="#231f20" stroke-width="0.9"/><circle cx="171.5" cy="688.3" r="3.3" fill="#231f20"/>
<circle cx="214.8" cy="688.3" r="7.8" fill="#8a8a8a" stroke="#231f20" stroke-width="0.9"/><circle cx="214.8" cy="688.3" r="3.3" fill="#231f20"/>
<polygon points="124.6,695 120.19999999999999,702.6 129.0,702.6" fill="#231f20" stroke="#fff" stroke-width="2.4" paint-order="stroke"/>
<polygon points="171.5,695 167.1,702.6 175.9,702.6" fill="#231f20" stroke="#fff" stroke-width="2.4" paint-order="stroke"/>
<polygon points="214.8,695 210.4,702.6 219.20000000000002,702.6" fill="#231f20" stroke="#fff" stroke-width="2.4" paint-order="stroke"/>
<rect x="122.4" y="702" width="4.7" height="87" fill="#231f20"/>
<path d="M171.5,702 V814.7 Q171.5,818.7 175.5,818.7 H229" stroke="#231f20" stroke-width="3" fill="none"/>
<path d="M214.8,702 V757.5 Q214.8,762.3 219.6,762.3 H229" stroke="#231f20" stroke-width="3" fill="none"/>
<rect x="232" y="757.5999999999999" width="37" height="10.4" fill="#333" stroke="#231f20" stroke-width="0.6"/>
<rect x="232" y="757.5999999999999" width="12.58" height="10.4" fill="#c4c4c4" stroke="#555" stroke-width="0.6"/>
<rect x="246.08" y="757.5999999999999" width="1.47" height="10.4" fill="#6a6a6a"/>
<rect x="249.82" y="757.5999999999999" width="1.47" height="10.4" fill="#6a6a6a"/>
<rect x="253.55" y="757.5999999999999" width="1.47" height="10.4" fill="#6a6a6a"/>
<rect x="257.29" y="757.5999999999999" width="1.47" height="10.4" fill="#6a6a6a"/>
<rect x="261.03" y="757.5999999999999" width="1.47" height="10.4" fill="#6a6a6a"/>
<rect x="264.76" y="757.5999999999999" width="1.47" height="10.4" fill="#6a6a6a"/>
<rect x="228" y="760.8" width="4" height="4" fill="#e0e0e0" stroke="#555" stroke-width="0.5"/>
<path d="M268,761.5 H279.5 M278.4,746 V781 M278.4,747.3 H289 M278.4,779.5 H289" stroke="#6a6a6a" stroke-width="3" fill="none"/>
<rect x="288" y="743.0999999999999" width="10" height="8.4" fill="#737373" stroke="#231f20" stroke-width="0.6"/>
<rect x="290.00" y="743.0999999999999" width="0.8" height="8.4" fill="#c0c0c0"/>
<rect x="292.60" y="743.0999999999999" width="0.8" height="8.4" fill="#c0c0c0"/>
<rect x="295.20" y="743.0999999999999" width="0.8" height="8.4" fill="#c0c0c0"/>
<path d="M297.5,742.3 H310.5 Q314.5,742.3 314.5,747.3 Q314.5,752.3 310.5,752.3 H297.5 Z" fill="#9a9a9a" stroke="#231f20" stroke-width="0.7"/>
<rect x="312.3" y="744.8" width="1.6" height="5" fill="#fff"/>
<rect x="316.6" y="745.5999999999999" width="8" height="3.4" rx="1.5" fill="#fff" stroke="#231f20" stroke-width="0.7"/>
<rect x="339.6" y="742.3" width="13.0" height="10" fill="#909090" stroke="#231f20" stroke-width="0.6"/>
<rect x="341.60" y="742.3" width="0.9" height="10" fill="#eaeaea"/>
<rect x="344.50" y="742.3" width="0.9" height="10" fill="#eaeaea"/>
<rect x="347.40" y="742.3" width="0.9" height="10" fill="#eaeaea"/>
<rect x="350.30" y="742.3" width="0.9" height="10" fill="#eaeaea"/>
<rect x="323.6" y="741.3" width="17" height="12" rx="2" fill="#b4b4b4" stroke="#231f20" stroke-width="0.7"/>
<rect x="288" y="757.8" width="10" height="8.4" fill="#3f3f3f" stroke="#231f20" stroke-width="0.6"/>
<rect x="290.00" y="757.8" width="0.8" height="8.4" fill="#6a6a6a"/>
<rect x="292.60" y="757.8" width="0.8" height="8.4" fill="#6a6a6a"/>
<rect x="295.20" y="757.8" width="0.8" height="8.4" fill="#6a6a6a"/>
<path d="M297.5,757 H310.5 Q314.5,757 314.5,762 Q314.5,767 310.5,767 H297.5 Z" fill="#555" stroke="#231f20" stroke-width="0.7"/>
<rect x="312.3" y="759.5" width="1.6" height="5" fill="#fff"/>
<rect x="316.6" y="760.3" width="8" height="3.4" rx="1.5" fill="#fff" stroke="#231f20" stroke-width="0.7"/>
<rect x="339.6" y="757" width="13.0" height="10" fill="#3b3b3b" stroke="#231f20" stroke-width="0.6"/>
<rect x="341.60" y="757" width="0.9" height="10" fill="#606060"/>
<rect x="344.50" y="757" width="0.9" height="10" fill="#606060"/>
<rect x="347.40" y="757" width="0.9" height="10" fill="#606060"/>
<rect x="350.30" y="757" width="0.9" height="10" fill="#606060"/>
<rect x="323.6" y="756" width="17" height="12" rx="2" fill="#4a4a4a" stroke="#231f20" stroke-width="0.7"/>
<rect x="288" y="775.3" width="10" height="8.4" fill="#676767" stroke="#231f20" stroke-width="0.6"/>
<rect x="290.00" y="775.3" width="0.8" height="8.4" fill="#acacac"/>
<rect x="292.60" y="775.3" width="0.8" height="8.4" fill="#acacac"/>
<rect x="295.20" y="775.3" width="0.8" height="8.4" fill="#acacac"/>
<path d="M297.5,774.5 H310.5 Q314.5,774.5 314.5,779.5 Q314.5,784.5 310.5,784.5 H297.5 Z" fill="#8a8a8a" stroke="#231f20" stroke-width="0.7"/>
<rect x="312.3" y="777.0" width="1.6" height="5" fill="#fff"/>
<rect x="316.6" y="777.8" width="8" height="3.4" rx="1.5" fill="#fff" stroke="#231f20" stroke-width="0.7"/>
<rect x="339.6" y="774.5" width="13.0" height="10" fill="#6e6e6e" stroke="#231f20" stroke-width="0.6"/>
<rect x="341.60" y="774.5" width="0.9" height="10" fill="#b3b3b3"/>
<rect x="344.50" y="774.5" width="0.9" height="10" fill="#b3b3b3"/>
<rect x="347.40" y="774.5" width="0.9" height="10" fill="#b3b3b3"/>
<rect x="350.30" y="774.5" width="0.9" height="10" fill="#b3b3b3"/>
<rect x="323.6" y="773.5" width="17" height="12" rx="2" fill="#8a8a8a" stroke="#231f20" stroke-width="0.7"/>
<path d="M352,747.3 H355.8 V779.5 H352 M355.8,762 H518.4 V695" stroke="#6a6a6a" stroke-width="3" fill="none"/>
<rect x="232" y="813.5" width="39" height="10.4" fill="#333" stroke="#231f20" stroke-width="0.6"/>
<rect x="232" y="813.5" width="13.26" height="10.4" fill="#c4c4c4" stroke="#555" stroke-width="0.6"/>
<rect x="246.76" y="813.5" width="1.54" height="10.4" fill="#6a6a6a"/>
<rect x="250.72" y="813.5" width="1.54" height="10.4" fill="#6a6a6a"/>
<rect x="254.67" y="813.5" width="1.54" height="10.4" fill="#6a6a6a"/>
<rect x="258.63" y="813.5" width="1.54" height="10.4" fill="#6a6a6a"/>
<rect x="262.59" y="813.5" width="1.54" height="10.4" fill="#6a6a6a"/>
<rect x="266.54" y="813.5" width="1.54" height="10.4" fill="#6a6a6a"/>
<rect x="228" y="816.7" width="4" height="4" fill="#e0e0e0" stroke="#555" stroke-width="0.5"/>
<path d="M270,818.7 H279.5 M278.4,801 V836 M278.4,801.8 H289 M278.4,834.6 H289" stroke="#6a6a6a" stroke-width="3" fill="none"/>
<rect x="288" y="797.5999999999999" width="10" height="8.4" fill="#3f3f3f" stroke="#231f20" stroke-width="0.6"/>
<rect x="290.00" y="797.5999999999999" width="0.8" height="8.4" fill="#6a6a6a"/>
<rect x="292.60" y="797.5999999999999" width="0.8" height="8.4" fill="#6a6a6a"/>
<rect x="295.20" y="797.5999999999999" width="0.8" height="8.4" fill="#6a6a6a"/>
<path d="M297.5,796.8 H310.5 Q314.5,796.8 314.5,801.8 Q314.5,806.8 310.5,806.8 H297.5 Z" fill="#555" stroke="#231f20" stroke-width="0.7"/>
<rect x="312.3" y="799.3" width="1.6" height="5" fill="#fff"/>
<rect x="316.6" y="800.0999999999999" width="8" height="3.4" rx="1.5" fill="#fff" stroke="#231f20" stroke-width="0.7"/>
<rect x="339.6" y="796.8" width="13.0" height="10" fill="#282828" stroke="#231f20" stroke-width="0.6"/>
<rect x="341.60" y="796.8" width="0.9" height="10" fill="#424242"/>
<rect x="344.50" y="796.8" width="0.9" height="10" fill="#424242"/>
<rect x="347.40" y="796.8" width="0.9" height="10" fill="#424242"/>
<rect x="350.30" y="796.8" width="0.9" height="10" fill="#424242"/>
<rect x="323.6" y="795.8" width="17" height="12" rx="2" fill="#333" stroke="#231f20" stroke-width="0.7"/>
<rect x="288" y="814.5" width="10" height="8.4" fill="#bbbbbb" stroke="#231f20" stroke-width="0.6"/>
<rect x="290.00" y="814.5" width="0.8" height="8.4" fill="#ffffff"/>
<rect x="292.60" y="814.5" width="0.8" height="8.4" fill="#ffffff"/>
<rect x="295.20" y="814.5" width="0.8" height="8.4" fill="#ffffff"/>
<path d="M297.5,813.7 H310.5 Q314.5,813.7 314.5,818.7 Q314.5,823.7 310.5,823.7 H297.5 Z" fill="#fafafa" stroke="#231f20" stroke-width="0.7"/>
<rect x="312.3" y="816.2" width="1.6" height="5" fill="#fff"/>
<rect x="316.6" y="817.0" width="8" height="3.4" rx="1.5" fill="#fff" stroke="#231f20" stroke-width="0.7"/>
<rect x="339.6" y="813.7" width="13.0" height="10" fill="#c8c8c8" stroke="#231f20" stroke-width="0.6"/>
<rect x="341.60" y="813.7" width="0.9" height="10" fill="#ffffff"/>
<rect x="344.50" y="813.7" width="0.9" height="10" fill="#ffffff"/>
<rect x="347.40" y="813.7" width="0.9" height="10" fill="#ffffff"/>
<rect x="350.30" y="813.7" width="0.9" height="10" fill="#ffffff"/>
<rect x="323.6" y="812.7" width="17" height="12" rx="2" fill="#fafafa" stroke="#231f20" stroke-width="0.7"/>
<rect x="288" y="830.4" width="10" height="8.4" fill="#9c9c9c" stroke="#231f20" stroke-width="0.6"/>
<rect x="290.00" y="830.4" width="0.8" height="8.4" fill="#ffffff"/>
<rect x="292.60" y="830.4" width="0.8" height="8.4" fill="#ffffff"/>
<rect x="295.20" y="830.4" width="0.8" height="8.4" fill="#ffffff"/>
<path d="M297.5,829.6 H310.5 Q314.5,829.6 314.5,834.6 Q314.5,839.6 310.5,839.6 H297.5 Z" fill="#d0d0d0" stroke="#231f20" stroke-width="0.7"/>
<rect x="312.3" y="832.1" width="1.6" height="5" fill="#fff"/>
<rect x="316.6" y="832.9" width="8" height="3.4" rx="1.5" fill="#fff" stroke="#231f20" stroke-width="0.7"/>
<rect x="339.6" y="829.6" width="13.0" height="10" fill="#acacac" stroke="#231f20" stroke-width="0.6"/>
<rect x="341.60" y="829.6" width="0.9" height="10" fill="#ffffff"/>
<rect x="344.50" y="829.6" width="0.9" height="10" fill="#ffffff"/>
<rect x="347.40" y="829.6" width="0.9" height="10" fill="#ffffff"/>
<rect x="350.30" y="829.6" width="0.9" height="10" fill="#ffffff"/>
<rect x="323.6" y="828.6" width="17" height="12" rx="2" fill="#d8d8d8" stroke="#231f20" stroke-width="0.7"/>
<path d="M352,801.8 H358 V818.7 H352 M358,808 H592.3 M352,834.4 H528.4 V842" stroke="#6a6a6a" stroke-width="3" fill="none"/>
<g transform="translate(498.3,647.3)">
<rect x="-1.6" y="0" width="3.2" height="11" rx="1.4" fill="#fff" stroke="#231f20" stroke-width="0.7"/>
<path d="M-6,12.5 L-4.3,9.3 H4.3 L6,12.5 V22 H-6 Z" fill="#484848" stroke="#231f20" stroke-width="0.7"/>
<rect x="-6" y="21.5" width="12" height="3.6" fill="#202020" stroke="#231f20" stroke-width="0.5"/>
<rect x="-6" y="25.1" width="12" height="5.8" fill="#484848" stroke="#231f20" stroke-width="0.6"/>
<rect x="-5.6" y="30.9" width="11.2" height="2.2" fill="#231f20"/>
<path d="M-4.8,33.1 H4.8 L4.2,42.8 H-4.2 Z" fill="#404040" stroke="#231f20" stroke-width="0.6"/>
<path d="M-1.6,33.5 V42.5 M1.6,33.5 V42.5" stroke="#2b2b2b" stroke-width="0.6"/>
<text x="0" y="19" font-size="5" fill="#6c6c6c" text-anchor="middle">R</text>
</g>
<g transform="translate(518.4,647.3)">
<rect x="-1.6" y="0" width="3.2" height="11" rx="1.4" fill="#fff" stroke="#231f20" stroke-width="0.7"/>
<path d="M-6,12.5 L-4.3,9.3 H4.3 L6,12.5 V22 H-6 Z" fill="#6e6e6e" stroke="#231f20" stroke-width="0.7"/>
<rect x="-6" y="21.5" width="12" height="3.6" fill="#313131" stroke="#231f20" stroke-width="0.5"/>
<rect x="-6" y="25.1" width="12" height="5.8" fill="#6e6e6e" stroke="#231f20" stroke-width="0.6"/>
<rect x="-5.6" y="30.9" width="11.2" height="2.2" fill="#231f20"/>
<path d="M-4.8,33.1 H4.8 L4.2,42.8 H-4.2 Z" fill="#636363" stroke="#231f20" stroke-width="0.6"/>
<path d="M-1.6,33.5 V42.5 M1.6,33.5 V42.5" stroke="#424242" stroke-width="0.6"/>
<text x="0" y="19" font-size="5" fill="#a5a5a5" text-anchor="middle">B</text>
</g>
<g transform="translate(539.3,647.3)">
<rect x="-1.6" y="0" width="3.2" height="11" rx="1.4" fill="#fff" stroke="#231f20" stroke-width="0.7"/>
<path d="M-6,12.5 L-4.3,9.3 H4.3 L6,12.5 V22 H-6 Z" fill="#959595" stroke="#231f20" stroke-width="0.7"/>
<rect x="-6" y="21.5" width="12" height="3.6" fill="#434343" stroke="#231f20" stroke-width="0.5"/>
<rect x="-6" y="25.1" width="12" height="5.8" fill="#959595" stroke="#231f20" stroke-width="0.6"/>
<rect x="-5.6" y="30.9" width="11.2" height="2.2" fill="#231f20"/>
<path d="M-4.8,33.1 H4.8 L4.2,42.8 H-4.2 Z" fill="#868686" stroke="#231f20" stroke-width="0.6"/>
<path d="M-1.6,33.5 V42.5 M1.6,33.5 V42.5" stroke="#595959" stroke-width="0.6"/>
<text x="0" y="19" font-size="5" fill="#686868" text-anchor="middle">G</text>
</g>
<g transform="translate(582.6,647.3)">
<rect x="-1.6" y="0" width="3.2" height="11" rx="1.4" fill="#fff" stroke="#231f20" stroke-width="0.7"/>
<path d="M-6,12.5 L-4.3,9.3 H4.3 L6,12.5 V22 H-6 Z" fill="#484848" stroke="#231f20" stroke-width="0.7"/>
<rect x="-6" y="21.5" width="12" height="3.6" fill="#202020" stroke="#231f20" stroke-width="0.5"/>
<rect x="-6" y="25.1" width="12" height="5.8" fill="#484848" stroke="#231f20" stroke-width="0.6"/>
<rect x="-5.6" y="30.9" width="11.2" height="2.2" fill="#231f20"/>
<path d="M-4.8,33.1 H4.8 L4.2,42.8 H-4.2 Z" fill="#404040" stroke="#231f20" stroke-width="0.6"/>
<path d="M-1.6,33.5 V42.5 M1.6,33.5 V42.5" stroke="#2b2b2b" stroke-width="0.6"/>
<text x="0" y="19" font-size="5" fill="#6c6c6c" text-anchor="middle">R</text>
</g>
<g transform="translate(599.2,647.3)">
<rect x="-1.6" y="0" width="3.2" height="11" rx="1.4" fill="#fff" stroke="#231f20" stroke-width="0.7"/>
<path d="M-6,12.5 L-4.3,9.3 H4.3 L6,12.5 V22 H-6 Z" fill="#f6f6f6" stroke="#231f20" stroke-width="0.7"/>
<rect x="-6" y="21.5" width="12" height="3.6" fill="#6e6e6e" stroke="#231f20" stroke-width="0.5"/>
<rect x="-6" y="25.1" width="12" height="5.8" fill="#f6f6f6" stroke="#231f20" stroke-width="0.6"/>
<rect x="-5.6" y="30.9" width="11.2" height="2.2" fill="#231f20"/>
<path d="M-4.8,33.1 H4.8 L4.2,42.8 H-4.2 Z" fill="#dddddd" stroke="#231f20" stroke-width="0.6"/>
<path d="M-1.6,33.5 V42.5 M1.6,33.5 V42.5" stroke="#939393" stroke-width="0.6"/>
<text x="0" y="19" font-size="5" fill="#acacac" text-anchor="middle">W</text>
</g>
<path d="M498.3,690 V695 H539.3 V690 M582.6,690 V695 H599.2 V690 M590.8,695 V834.5" stroke="#6a6a6a" stroke-width="3" fill="none"/>
<path d="M582.8,842 V835 H597.3 V842" stroke="#6a6a6a" stroke-width="3" fill="none"/>
<g transform="translate(528.4,878) scale(1,-1)">
<rect x="-1.6" y="0" width="3.2" height="11" rx="1.4" fill="#fff" stroke="#231f20" stroke-width="0.7"/>
<path d="M-6,12.5 L-4.3,9.3 H4.3 L6,12.5 V22 H-6 Z" fill="#dcdcdc" stroke="#231f20" stroke-width="0.7"/>
<rect x="-6" y="21.5" width="12" height="3.6" fill="#636363" stroke="#231f20" stroke-width="0.5"/>
<rect x="-6" y="25.1" width="12" height="5.8" fill="#dcdcdc" stroke="#231f20" stroke-width="0.6"/>
<rect x="-5.6" y="30.9" width="11.2" height="2.2" fill="#231f20"/>
<path d="M-4.8,33.1 H4.8 L4.2,42.8 H-4.2 Z" fill="#c6c6c6" stroke="#231f20" stroke-width="0.6"/>
<path d="M-1.6,33.5 V42.5 M1.6,33.5 V42.5" stroke="#848484" stroke-width="0.6"/>
<text x="0" y="-13" font-size="5" fill="#9a9a9a" text-anchor="middle" transform="scale(1,-1)">V</text>
</g>
<g transform="translate(582.8,878) scale(1,-1)">
<rect x="-1.6" y="0" width="3.2" height="11" rx="1.4" fill="#fff" stroke="#231f20" stroke-width="0.7"/>
<path d="M-6,12.5 L-4.3,9.3 H4.3 L6,12.5 V22 H-6 Z" fill="#3a3a3a" stroke="#231f20" stroke-width="0.7"/>
<rect x="-6" y="21.5" width="12" height="3.6" fill="#1a1a1a" stroke="#231f20" stroke-width="0.5"/>
<rect x="-6" y="25.1" width="12" height="5.8" fill="#3a3a3a" stroke="#231f20" stroke-width="0.6"/>
<rect x="-5.6" y="30.9" width="11.2" height="2.2" fill="#231f20"/>
<path d="M-4.8,33.1 H4.8 L4.2,42.8 H-4.2 Z" fill="#343434" stroke="#231f20" stroke-width="0.6"/>
<path d="M-1.6,33.5 V42.5 M1.6,33.5 V42.5" stroke="#222222" stroke-width="0.6"/>
<text x="0" y="-13" font-size="5" fill="#575757" text-anchor="middle" transform="scale(1,-1)">R</text>
</g>
<g transform="translate(597.3,878) scale(1,-1)">
<rect x="-1.6" y="0" width="3.2" height="11" rx="1.4" fill="#fff" stroke="#231f20" stroke-width="0.7"/>
<path d="M-6,12.5 L-4.3,9.3 H4.3 L6,12.5 V22 H-6 Z" fill="#f4f4f4" stroke="#231f20" stroke-width="0.7"/>
<rect x="-6" y="21.5" width="12" height="3.6" fill="#6d6d6d" stroke="#231f20" stroke-width="0.5"/>
<rect x="-6" y="25.1" width="12" height="5.8" fill="#f4f4f4" stroke="#231f20" stroke-width="0.6"/>
<rect x="-5.6" y="30.9" width="11.2" height="2.2" fill="#231f20"/>
<path d="M-4.8,33.1 H4.8 L4.2,42.8 H-4.2 Z" fill="#dbdbdb" stroke="#231f20" stroke-width="0.6"/>
<path d="M-1.6,33.5 V42.5 M1.6,33.5 V42.5" stroke="#929292" stroke-width="0.6"/>
<text x="0" y="-13" font-size="5" fill="#aaaaaa" text-anchor="middle" transform="scale(1,-1)">W</text>
</g>
<rect x="117.5" y="787.5" width="13.5" height="4.5" fill="#333"/>
<rect x="119" y="787.5" width="1" height="4.5" fill="#777"/>
<rect x="122" y="787.5" width="1" height="4.5" fill="#777"/>
<rect x="125" y="787.5" width="1" height="4.5" fill="#777"/>
<rect x="128" y="787.5" width="1" height="4.5" fill="#777"/>
<rect x="113.3" y="791" width="20.2" height="24.7" rx="1.5" fill="#d4d4d4" stroke="#8a8a8a" stroke-width="0.8"/>
<rect x="113.8" y="791.5" width="2.2" height="23.7" fill="#b8b8b8"/>
<polygon points="124.2,798.5 119.2,806.5 129.2,806.5" fill="#8a8a8a"/>
<polygon points="124.2,798.5 124.2,806.5 129.2,806.5" fill="#a8a8a8"/>
<rect x="119.5" y="815.7" width="9.5" height="6.5" fill="#c0c0c0" stroke="#7a7a7a" stroke-width="0.6"/>
<rect x="121.0" y="816" width="0.8" height="6" fill="#888"/>
<rect x="123.8" y="816" width="0.8" height="6" fill="#888"/>
<rect x="126.6" y="816" width="0.8" height="6" fill="#888"/>
<rect x="121" y="822" width="6.5" height="2.2" fill="#444"/>
<rect x="123.5" y="824" width="1.8" height="15.5" fill="#5a5a5a"/>
<defs><linearGradient id="knob" x1="0" x2="0" y1="0" y2="1"><stop offset="0" stop-color="#e8e8e8"/><stop offset="1" stop-color="#8a8a8a"/></linearGradient></defs>
<path d="M117.8,846 Q117.8,839 124,839 Q130.2,839 130.2,846 Z" fill="url(#knob)" stroke="#555" stroke-width="0.6"/>
<rect x="117.6" y="845" width="12.7" height="8.5" fill="#5a5a5a" stroke="#333" stroke-width="0.6"/>
<rect x="119.2" y="845" width="1" height="8.5" fill="#7a7a7a"/>
<rect x="122.2" y="845" width="1" height="8.5" fill="#7a7a7a"/>
<rect x="125.2" y="845" width="1" height="8.5" fill="#7a7a7a"/>
<rect x="128.2" y="845" width="1" height="8.5" fill="#7a7a7a"/>
<polygon points="117.6,853.5 132,853.5 136,847.5 149.5,855.5 135,879 120,879 117.6,875" fill="#cdcdcd" stroke="#858585" stroke-width="0.8"/>
<polygon points="117.6,853.5 121,853.5 121,879 120,879 117.6,875" fill="#b4b4b4"/>
<polygon points="136,847.5 149.5,855.5 148.5,858 135.5,850" fill="#9a9a9a"/>
<polygon points="127.5,876.5 143.5,853.5 146,855 130,878" fill="#555"/>
<polygon points="129,875.5 143.8,855.2 144.8,855.8 130,876.2" fill="#ddd"/>
<rect x="89.2" y="888.3" width="187.7" height="96.90000000000009" rx="5" fill="#dddddd"/>
<path d="M89.2,963.2 V980.2 Q89.2,985.2 94.2,985.2 H271.9 Q276.9,985.2 276.9,980.2 V963.2 Z" fill="#8d8b8c"/>
<text x="124.5" y="978.6999999999999" font-size="13.6" fill="#fff" font-weight="bold" text-anchor="start" stroke="#fff" stroke-width="0.3" textLength="110.80000000000001" lengthAdjust="spacingAndGlyphs" >Using a Scart Cable</text>
<rect x="98.3" y="915.2" width="59.7" height="38.09999999999991" rx="3.5" fill="#fff" stroke="#231f20" stroke-width="1"/>
<line x1="98.3" y1="927" x2="158" y2="927" stroke="#231f20" stroke-width="0.9"/>
<text x="128.15" y="924.4" font-size="8.6" fill="#2a2a2a" font-weight="normal" text-anchor="middle" textLength="14" lengthAdjust="spacingAndGlyphs" >EXT</text>
<path d="M113,933.8 H146.5 Q148.6,933.8 148.4,936 L147.3,945.5 Q147,947.8 144.8,947.8 H116 Q113.6,947.8 113.2,945.5 L111.2,936.5 Z" fill="#fff" stroke="#231f20" stroke-width="1.3"/>
<path d="M114.5,936 H146 L145.2,945.8 H116.2 Z" fill="#3a3a3a"/>
<rect x="116.50" y="937.60" width="1.8" height="1" fill="#f0f0f0"/>
<rect x="119.40" y="937.60" width="1.8" height="1" fill="#f0f0f0"/>
<rect x="122.30" y="937.60" width="1.8" height="1" fill="#f0f0f0"/>
<rect x="125.20" y="937.60" width="1.8" height="1" fill="#f0f0f0"/>
<rect x="128.10" y="937.60" width="1.8" height="1" fill="#f0f0f0"/>
<rect x="131.00" y="937.60" width="1.8" height="1" fill="#f0f0f0"/>
<rect x="133.90" y="937.60" width="1.8" height="1" fill="#f0f0f0"/>
<rect x="136.80" y="937.60" width="1.8" height="1" fill="#f0f0f0"/>
<rect x="139.70" y="937.60" width="1.8" height="1" fill="#f0f0f0"/>
<rect x="142.60" y="937.60" width="1.8" height="1" fill="#f0f0f0"/>
<rect x="116.50" y="940.50" width="1.8" height="1" fill="#f0f0f0"/>
<rect x="119.40" y="940.50" width="1.8" height="1" fill="#f0f0f0"/>
<rect x="122.30" y="940.50" width="1.8" height="1" fill="#f0f0f0"/>
<rect x="125.20" y="940.50" width="1.8" height="1" fill="#f0f0f0"/>
<rect x="128.10" y="940.50" width="1.8" height="1" fill="#f0f0f0"/>
<rect x="131.00" y="940.50" width="1.8" height="1" fill="#f0f0f0"/>
<rect x="133.90" y="940.50" width="1.8" height="1" fill="#f0f0f0"/>
<rect x="136.80" y="940.50" width="1.8" height="1" fill="#f0f0f0"/>
<rect x="139.70" y="940.50" width="1.8" height="1" fill="#f0f0f0"/>
<rect x="142.60" y="940.50" width="1.8" height="1" fill="#f0f0f0"/>
<rect x="116.50" y="943.40" width="1.8" height="1" fill="#f0f0f0"/>
<rect x="119.40" y="943.40" width="1.8" height="1" fill="#f0f0f0"/>
<rect x="122.30" y="943.40" width="1.8" height="1" fill="#f0f0f0"/>
<rect x="125.20" y="943.40" width="1.8" height="1" fill="#f0f0f0"/>
<rect x="128.10" y="943.40" width="1.8" height="1" fill="#f0f0f0"/>
<rect x="131.00" y="943.40" width="1.8" height="1" fill="#f0f0f0"/>
<rect x="133.90" y="943.40" width="1.8" height="1" fill="#f0f0f0"/>
<rect x="136.80" y="943.40" width="1.8" height="1" fill="#f0f0f0"/>
<rect x="139.70" y="943.40" width="1.8" height="1" fill="#f0f0f0"/>
<rect x="142.60" y="943.40" width="1.8" height="1" fill="#f0f0f0"/>
<text x="209.6" y="921.7" font-size="11.6" fill="#262626" font-weight="normal" text-anchor="start" stroke="#262626" stroke-width="0.05" textLength="34" lengthAdjust="spacingAndGlyphs" >Device</text>
<path d="M194.56,929 H255.04 L268,935 V952.5 H181.6 V935 Z" fill="#fff" stroke="#231f20" stroke-width="1"/>
<line x1="181.6" y1="935" x2="268" y2="935" stroke="#231f20" stroke-width="1"/>
<path d="M188.51,952.9 Q191.10,954.7 193.70,952.9" fill="#231f20" stroke="#231f20" stroke-width="0.6"/>
<path d="M255.90,952.9 Q258.50,954.7 261.09,952.9" fill="#231f20" stroke="#231f20" stroke-width="0.6"/>
<rect x="201.30" y="937.80" width="47.69" height="12.95" fill="#fff" stroke="#231f20" stroke-width="0.9"/>
<line x1="201.30" y1="944.36" x2="248.99" y2="944.36" stroke="#231f20" stroke-width="1.1"/>
<path d="M207.35,944.36 V948.56 H242.94 V944.36" fill="none" stroke="#231f20" stroke-width="0.8"/>
<line x1="201.70" y1="944.36" x2="201.70" y2="950.75" stroke="#231f20" stroke-width="1.2"/>
<rect x="188.08" y="940.77" width="4.75" height="3.85" fill="none" stroke="#231f20" stroke-width="0.8"/>
<line x1="190.46" y1="937.98" x2="190.46" y2="940.77" stroke="#231f20" stroke-width="0.8"/>
<circle cx="250.72" cy="940.95" r="0.7" fill="#231f20"/>
<circle cx="250.72" cy="946.55" r="0.8" fill="#231f20"/>
<rect x="485.4" y="888" width="227.39999999999998" height="96.29999999999995" rx="5" fill="#dddddd"/>
<path d="M485.4,962.6 V979.3 Q485.4,984.3 490.4,984.3 H707.8 Q712.8,984.3 712.8,979.3 V962.6 Z" fill="#8d8b8c"/>
<text x="521.9" y="977.5" font-size="13.6" fill="#fff" font-weight="bold" text-anchor="start" stroke="#fff" stroke-width="0.3" textLength="157.10000000000002" lengthAdjust="spacingAndGlyphs" >Using an Audio/Video Cable</text>
<rect x="504" y="911.9" width="45.39999999999998" height="38.30000000000007" rx="3.5" fill="#fff" stroke="#231f20" stroke-width="1"/>
<line x1="504" y1="923.3" x2="549.4" y2="923.3" stroke="#231f20" stroke-width="0.9"/>
<text x="526.7" y="920.6999999999999" font-size="8.6" fill="#2a2a2a" font-weight="normal" text-anchor="middle" textLength="41" lengthAdjust="spacingAndGlyphs" >VIDEO OUT</text>
<circle cx="527.3" cy="936.5" r="6.6" fill="#5a5a5a" stroke="#231f20" stroke-width="0.8"/>
<circle cx="527.3" cy="936.5" r="2.772" fill="#231f20"/>
<rect x="563.8" y="911.9" width="47.200000000000045" height="38.30000000000007" rx="3.5" fill="#fff" stroke="#231f20" stroke-width="1"/>
<line x1="563.8" y1="923.3" x2="611" y2="923.3" stroke="#231f20" stroke-width="0.9"/>
<text x="587.4" y="920.6999999999999" font-size="8.6" fill="#2a2a2a" font-weight="normal" text-anchor="middle" textLength="42" lengthAdjust="spacingAndGlyphs" >AUDIO OUT</text>
<circle cx="576.3" cy="936.5" r="6.6" fill="#5a5a5a" stroke="#231f20" stroke-width="0.8"/>
<circle cx="576.3" cy="936.5" r="2.772" fill="#231f20"/>
<circle cx="597.3" cy="936.5" r="6.6" fill="#fff" stroke="#231f20" stroke-width="1"/>
<circle cx="597.3" cy="936.5" r="2.508" fill="#231f20"/>
<text x="644" y="918.6" font-size="11.6" fill="#262626" font-weight="normal" text-anchor="start" stroke="#262626" stroke-width="0.05" textLength="34" lengthAdjust="spacingAndGlyphs" >Device</text>
<path d="M633.41,926.3 H693.19 L706,931.3 V950.2 H620.6 V931.3 Z" fill="#fff" stroke="#231f20" stroke-width="1"/>
<line x1="620.6" y1="931.3" x2="706" y2="931.3" stroke="#231f20" stroke-width="1"/>
<path d="M627.43,950.6 Q629.99,952.4000000000001 632.56,950.6" fill="#231f20" stroke="#231f20" stroke-width="0.6"/>
<path d="M694.04,950.6 Q696.61,952.4000000000001 699.17,950.6" fill="#231f20" stroke="#231f20" stroke-width="0.6"/>
<rect x="640.07" y="934.32" width="47.14" height="13.99" fill="#fff" stroke="#231f20" stroke-width="0.9"/>
<line x1="640.07" y1="941.41" x2="687.21" y2="941.41" stroke="#231f20" stroke-width="1.1"/>
<path d="M646.05,941.41 V945.95 H681.23 V941.41" fill="none" stroke="#231f20" stroke-width="0.8"/>
<line x1="640.47" y1="941.41" x2="640.47" y2="948.31" stroke="#231f20" stroke-width="1.2"/>
<rect x="627.00" y="937.54" width="4.70" height="4.16" fill="none" stroke="#231f20" stroke-width="0.8"/>
<line x1="629.35" y1="934.51" x2="629.35" y2="937.54" stroke="#231f20" stroke-width="0.8"/>
<circle cx="688.92" cy="937.73" r="0.7" fill="#231f20"/>
<circle cx="688.92" cy="943.77" r="0.8" fill="#231f20"/>
<path d="M335,1131 V1106 Q335,1096 345,1096 H456 Q466,1096 466,1106 V1131 Z" fill="#bebebe"/>
<text x="368.9" y="1114.3" font-size="14.3" fill="#231f20" font-weight="bold" text-anchor="start" stroke="#231f20" stroke-width="0.12" textLength="65.8" lengthAdjust="spacingAndGlyphs" >English -4</text>
<rect x="0" y="1129.6" width="802" height="1.4" fill="#4a4a4a"/>
</svg></body></html>
